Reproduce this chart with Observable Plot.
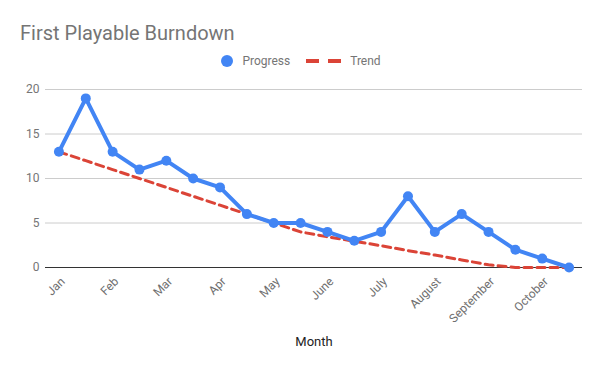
<!DOCTYPE html>
<html>
<head>
<meta charset="utf-8">
<script src="https://cdn.jsdelivr.net/npm/d3@7"></script>
<script src="https://cdn.jsdelivr.net/npm/@observablehq/plot@0.6"></script>
<style>
  html, body { margin: 0; padding: 0; background: #fff; }
  body { width: 600px; height: 371px; overflow: hidden; font-family: Roboto, "Noto Sans", sans-serif; }
  #title { height: 48px; box-sizing: border-box; padding: 21px 0 0 20px; font-size: 20px; line-height: 24px; color: #757575; }
  #legend { height: 26px; display: flex; align-items: center; justify-content: center; font-size: 12px; color: #757575; padding-left: 2px; }
  #legend .item { display: flex; align-items: center; }
  #legend .dot { width: 12px; height: 12px; border-radius: 50%; background: #4285F4; margin-right: 9px; }
  #chart svg { display: block; }
</style>
</head>
<body>
<div id="title">First Playable Burndown</div>
<div id="legend">
  <div class="item"><div class="dot"></div><span>Progress</span></div>
  <div class="item" style="margin-left:16px"><svg width="35" height="10" style="margin-right:9px"><line x1="0" x2="35" y1="5" y2="5" stroke="#DB4437" stroke-width="4" stroke-dasharray="13,9"></line></svg><span>Trend</span></div>
</div>
<div id="chart"></div>
<script>
const monthLabels = ["Jan","Feb","Mar","Apr","May","June","July","August","September","October"];
const pointIndex = [0,1,2,3,4,5,6,7,8,9,10,11,12,13,14,15,16,17,18,19];
const progress = [13,19,13,11,12,10,9,6,5,5,4,3,4,8,4,6,4,2,1,0];
const trend = [13,12,11,10,9,8,7,6,5,4,3.45,2.95,2.45,1.9,1.4,0.85,0.3,0,0,0];
const yTicks = [0,5,10,15,20];

const progressData = pointIndex.map((i) => ({i, v: progress[i]}));
const trendData = pointIndex.map((i) => ({i, v: trend[i]}));
const labelTicks = monthLabels.map((_, k) => k * 2);

const chart = Plot.plot({
  width: 600,
  height: 297,
  marginTop: 15,
  marginBottom: 104,
  marginLeft: 45,
  marginRight: 18,
  style: {fontFamily: "Roboto, 'Noto Sans', sans-serif", background: "#fff"},
  x: {type: "point", domain: pointIndex, padding: 0.5, round: false},
  y: {domain: [0, 20]},
  marks: [
    Plot.gridY(yTicks, {stroke: "#cccccc", strokeOpacity: 1}),
    Plot.axisY(yTicks, {tickSize: 0, tickPadding: 6, fontSize: 12, fill: "#757575", label: null}),
    Plot.axisX(labelTicks, {tickSize: 0, tickPadding: 6, tickRotate: -45, fontSize: 12, fill: "#6f6f6f",
      dx: 4, dy: 6, tickFormat: (d) => monthLabels[d / 2], label: null}),
    Plot.text(["Month"], {frameAnchor: "bottom", dy: 78, fontSize: 13, fill: "#222"}),
    Plot.ruleY([0], {stroke: "#333", strokeWidth: 1.2}),
    Plot.line(trendData, {x: "i", y: "v", stroke: "#DB4437", strokeWidth: 3, strokeDasharray: "8,5"}),
    Plot.line(progressData, {x: "i", y: "v", stroke: "#4285F4", strokeWidth: 4, strokeLinejoin: "round"}),
    Plot.dot(progressData, {x: "i", y: "v", r: 5, fill: "#4285F4"})
  ]
});
document.getElementById("chart").appendChild(chart);
</script>
</body>
</html>
